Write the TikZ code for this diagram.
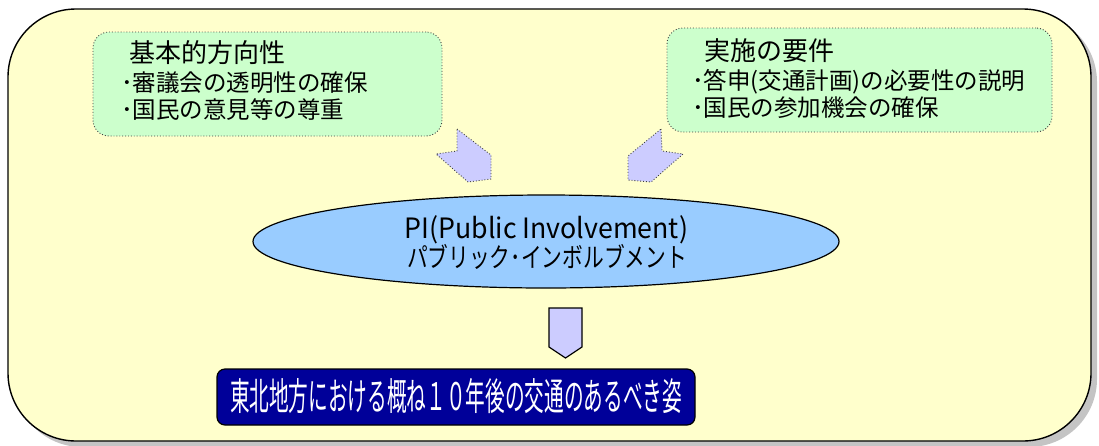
\documentclass[tikz,border=0pt]{standalone}
\usepackage{fontspec}
\usepackage{graphicx}
\setmainfont{Noto Sans CJK JP}
\usetikzlibrary{shapes.geometric}
\definecolor{bgyellow}{HTML}{FFFFCC}
\definecolor{boxgreen}{HTML}{CCFFCC}
\definecolor{arrowlav}{HTML}{CCCCFF}
\definecolor{ellblue}{HTML}{99CCFF}
\definecolor{deepnavy}{HTML}{000099}
\definecolor{shadowgray}{HTML}{C4C4C4}
\newcommand{\fsTitle}{\fontsize{26}{30}\selectfont}
\newcommand{\fsItem}{\fontsize{23.5}{28}\selectfont}
\begin{document}
\begin{tikzpicture}[x=1pt,y=-1pt,
  framebox/.style={draw=black,line width=1.4pt,fill=bgyellow,rounded corners=68pt,
    minimum width=1083pt,minimum height=432pt,inner sep=0pt},
  greenbox/.style={draw=black!75,dotted,line width=0.9pt,fill=boxgreen,rounded corners=16pt,
    minimum height=104pt,inner sep=0pt},
  txt/.style={anchor=base west,inner sep=0pt,text=black},
  blockarrow/.style={fill=arrowlav,draw=black!75,dotted,line width=0.9pt},
  downarrow/.style={fill=arrowlav,draw=black,line width=1.2pt,line join=miter},
  pinode/.style={ellipse,draw=black,line width=1.2pt,fill=ellblue,
    minimum width=586pt,minimum height=93pt,inner sep=0pt},
  goalbox/.style={draw=black,line width=1.2pt,fill=deepnavy,rounded corners=8pt,
    minimum width=478pt,minimum height=56pt,inner sep=0pt}
]
\useasboundingbox (0,0) rectangle (1099,445);
% frame with shadow
\fill[shadowgray,rounded corners=68pt] (14,14) rectangle (1097,447);
\node[framebox] (frame) at (549.5,225) {};

% green boxes
\node[greenbox,minimum width=349pt] (leftbox) at (267.5,84) {};
\node[greenbox,minimum width=385pt] (rightbox) at (859.5,80) {};

\node[txt] (lt) at (129,62) {\fsTitle 基本的方向性};
\node[txt] (l1) at (121,91) {\fsItem ･審議会の透明性の確保};
\node[txt] (l2) at (121,118) {\fsItem ･国民の意見等の尊重};

\node[txt] (rt) at (704,60) {\fsTitle 実施の要件};
\node[txt] (r1) at (692,89) {\fsItem ･答申(交通計画)の必要性の説明};
\node[txt] (r2) at (692,116) {\fsItem ･国民の参加機会の確保};

% diagonal block arrows
\path[blockarrow] (457,129) -- (491,155) -- (491,179) -- (468,182) -- (436,154) -- (457,151) -- cycle;
\path[blockarrow] (661,129) -- (662,151) -- (683,154) -- (651,182) -- (628,180) -- (628,156) -- cycle;

% ellipse
\node[pinode] (pi) at (546,241.5) {};
\node[anchor=base,inner sep=0pt] (pi1) at (546.5,238)
  {\resizebox{283pt}{\height}{\fontsize{28}{28}\selectfont PI(Public Involvement)}};
\node[anchor=base,inner sep=0pt] (pi2) at (547,267)
  {\resizebox{280pt}{\height}{\fontsize{27}{27}\selectfont パブリック･インボルブメント}};

% down arrow
\path[downarrow] (549,308) -- (582,308) -- (582,347) -- (565.5,358) -- (549,347) -- cycle;

% goal box
\node[goalbox] (goal) at (456,397) {};
\node[anchor=base,inner sep=0pt,text=white] (goaltext) at (456,410.5)
  {\resizebox{452pt}{\height}{\fontsize{38}{38}\selectfont 東北地方における概ね１０年後の交通のあるべき姿}};
\end{tikzpicture}
\end{document}
